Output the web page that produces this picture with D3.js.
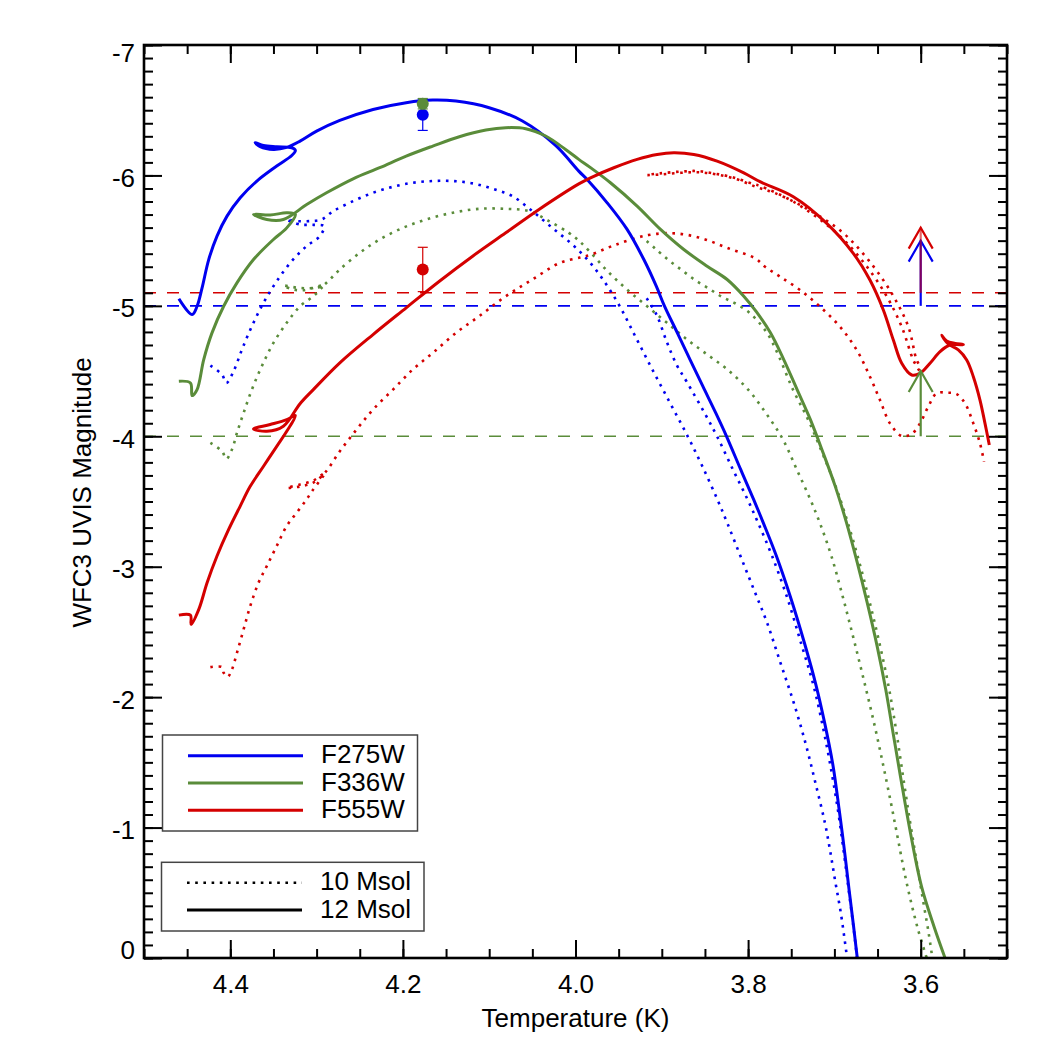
<!DOCTYPE html>
<html>
<head>
<meta charset="utf-8">
<script src="https://cdn.jsdelivr.net/npm/d3@7"></script>
<style>
body { margin: 0; background: #fff; }
text { font-family: "Liberation Sans", Arial, Helvetica, sans-serif; fill: #000; }
</style>
</head>
<body>
<svg></svg>
<script>
// bands, colours, masses
const bands = ["F275W", "F336W", "F555W"];
const bandColors = ["#0000f0", "#5a8c3a", "#d40000"];
const masses = ["10 Msol", "12 Msol"];

// axis ticks
const tempTicks = [4.4, 4.2, 4.0, 3.8, 3.6];
const magTicks = [-7, -6, -5, -4, -3, -2, -1, 0];

// tracks: [log T, magnitude]
const f275w_12 = [[4.4596,-5.054],[4.4442,-4.933],[4.4385,-4.997],[4.4327,-5.138],[4.425,-5.355],[4.4154,-5.535],[4.4038,-5.688],[4.3885,-5.829],[4.3692,-5.957],[4.3462,-6.072],[4.3288,-6.153],[4.3246,-6.192],[4.3288,-6.212],[4.3462,-6.220],[4.3615,-6.230],[4.3712,-6.251],[4.3654,-6.220],[4.35,-6.199],[4.3346,-6.215],[4.3192,-6.263],[4.30,-6.340],[4.2731,-6.422],[4.2346,-6.506],[4.1962,-6.558],[4.1654,-6.578],[4.1385,-6.570],[4.10,-6.519],[4.0615,-6.417],[4.0231,-6.230],[3.9962,-6.033],[3.9865,-5.969],[3.9633,-5.790],[3.9402,-5.586],[3.9208,-5.355],[3.9064,-5.151],[3.897,-5.0],[3.882,-4.793],[3.8673,-4.588],[3.8525,-4.384],[3.8375,-4.179],[3.825,-4.0],[3.8085,-3.744],[3.7935,-3.514],[3.7825,-3.338],[3.7672,-3.082],[3.75,-2.749],[3.7348,-2.417],[3.722,-2.110],[3.7113,-1.803],[3.7015,-1.471],[3.6945,-1.138],[3.6885,-0.831],[3.683,-0.524],[3.6778,-0.243],[3.6735,0]];
const f275w_10 = [[4.4231,-4.542],[4.4096,-4.473],[4.4046,-4.409],[4.3962,-4.499],[4.3865,-4.665],[4.375,-4.844],[4.3615,-5.023],[4.3462,-5.189],[4.3288,-5.343],[4.3115,-5.458],[4.2962,-5.535],[4.2915,-5.611],[4.3038,-5.621],[4.3192,-5.624],[4.3346,-5.662],[4.3231,-5.650],[4.3077,-5.650],[4.2942,-5.662],[4.2808,-5.726],[4.2577,-5.803],[4.2346,-5.867],[4.2115,-5.913],[4.1885,-5.944],[4.1654,-5.957],[4.1423,-5.957],[4.1192,-5.939],[4.0962,-5.898],[4.0731,-5.841],[4.05,-5.726],[4.0269,-5.598],[4.0038,-5.471],[3.9855,-5.35],[3.968,-5.2],[3.949,-5.0],[3.9295,-4.75],[3.91,-4.5],[3.89,-4.25],[3.87,-4.0],[3.853,-3.77],[3.8355,-3.514],[3.8243,-3.338],[3.8089,-3.082],[3.7934,-2.826],[3.778,-2.570],[3.7625,-2.263],[3.7471,-1.957],[3.7336,-1.650],[3.722,-1.343],[3.711,-1.036],[3.7051,-0.828],[3.6993,-0.598],[3.6925,-0.343],[3.6853,0]];
const f275w_10_loop = [[3.9175,-5.058],[3.9059,-4.930],[3.8943,-4.725],[3.8827,-4.547],[3.8712,-4.419],[3.8505,-4.179],[3.836,-4.0],[3.8175,-3.744],[3.8005,-3.514],[3.7885,-3.338],[3.7722,-3.082],[3.754,-2.749],[3.7388,-2.417],[3.725,-2.110],[3.7143,-1.803],[3.7045,-1.471],[3.696,-1.138],[3.6895,-0.831],[3.6835,-0.524],[3.678,-0.243],[3.6737,0]];

const f336w_12 = [[4.4596,-4.422],[4.4462,-4.409],[4.4442,-4.312],[4.4385,-4.358],[4.4308,-4.588],[4.4212,-4.793],[4.4077,-4.997],[4.3923,-5.176],[4.3731,-5.355],[4.35,-5.509],[4.3346,-5.598],[4.3246,-5.701],[4.3346,-5.714],[4.3538,-5.696],[4.3731,-5.701],[4.3577,-5.662],[4.3385,-5.662],[4.3115,-5.777],[4.2885,-5.867],[4.2577,-5.974],[4.2269,-6.059],[4.1962,-6.148],[4.1654,-6.225],[4.1346,-6.297],[4.1038,-6.348],[4.0808,-6.366],[4.0577,-6.358],[4.0346,-6.302],[4.0115,-6.199],[3.9962,-6.123],[3.9826,-6.060],[3.9595,-5.944],[3.9286,-5.765],[3.9015,-5.586],[3.8745,-5.432],[3.8475,-5.304],[3.8243,-5.202],[3.805,-5.074],[3.7905,-4.955],[3.7741,-4.793],[3.7587,-4.588],[3.7432,-4.358],[3.7278,-4.128],[3.713,-3.872],[3.699,-3.616],[3.686,-3.338],[3.6735,-3.031],[3.662,-2.724],[3.6505,-2.391],[3.6405,-2.059],[3.632,-1.726],[3.6235,-1.394],[3.6125,-0.982],[3.599,-0.547],[3.5845,-0.24],[3.5718,0]];
const f336w_10 = [[4.4231,-3.949],[4.4096,-3.885],[4.4046,-3.826],[4.3981,-3.898],[4.3923,-4.026],[4.3846,-4.179],[4.375,-4.358],[4.3635,-4.537],[4.35,-4.716],[4.3346,-4.870],[4.3192,-4.997],[4.3038,-5.074],[4.2942,-5.138],[4.2915,-5.16],[4.3038,-5.138],[4.3154,-5.120],[4.3269,-5.125],[4.3385,-5.156],[4.3231,-5.140],[4.3077,-5.135],[4.2942,-5.15],[4.285,-5.20],[4.2731,-5.279],[4.25,-5.407],[4.2269,-5.509],[4.2,-5.598],[4.1731,-5.662],[4.1423,-5.714],[4.1115,-5.744],[4.0808,-5.744],[4.0538,-5.726],[4.0308,-5.650],[4.0077,-5.560],[3.9962,-5.500],[3.9826,-5.410],[3.9635,-5.270],[3.9403,-5.125],[3.917,-4.997],[3.894,-4.870],[3.8708,-4.742],[3.848,-4.630],[3.824,-4.512],[3.8,-4.358],[3.7795,-4.179],[3.7595,-3.974],[3.7435,-3.744],[3.7278,-3.514],[3.717,-3.338],[3.7035,-3.082],[3.6905,-2.775],[3.6785,-2.468],[3.667,-2.161],[3.655,-1.829],[3.644,-1.496],[3.6345,-1.189],[3.628,-0.969],[3.617,-0.598],[3.6035,-0.228],[3.593,0]];
const f336w_10_loop = [[3.9175,-5.497],[3.9079,-5.441],[3.8925,-5.352],[3.877,-5.275],[3.8615,-5.198],[3.8461,-5.135],[3.8306,-5.070],[3.8152,-5.020],[3.7998,-4.955],[3.7882,-4.879],[3.7766,-4.777],[3.765,-4.623],[3.748,-4.358],[3.7305,-4.128],[3.714,-3.872],[3.6985,-3.616],[3.6845,-3.338],[3.671,-3.031],[3.659,-2.724],[3.647,-2.391],[3.6365,-2.059],[3.628,-1.726],[3.6205,-1.394],[3.6125,-1.05],[3.605,-0.75],[3.5975,-0.45],[3.591,-0.2],[3.5865,0]];

const f555w_12 = [[4.4596,-2.629],[4.4462,-2.629],[4.4454,-2.558],[4.4365,-2.673],[4.4269,-2.877],[4.4154,-3.082],[4.4019,-3.286],[4.3885,-3.465],[4.3769,-3.616],[4.3615,-3.770],[4.3462,-3.923],[4.3346,-4.038],[4.3246,-4.159],[4.3346,-4.128],[4.3538,-4.090],[4.3731,-4.056],[4.3577,-4.038],[4.3385,-4.077],[4.3192,-4.25],[4.3038,-4.358],[4.2731,-4.563],[4.2346,-4.780],[4.1962,-4.985],[4.1577,-5.189],[4.1192,-5.381],[4.0808,-5.560],[4.0423,-5.739],[3.9962,-5.935],[3.9826,-5.982],[3.9556,-6.059],[3.9286,-6.123],[3.9054,-6.161],[3.8861,-6.174],[3.8629,-6.161],[3.8359,-6.110],[3.805,-6.020],[3.7862,-5.952],[3.7476,-5.837],[3.7089,-5.633],[3.6781,-5.403],[3.6588,-5.198],[3.6433,-4.968],[3.6317,-4.738],[3.622,-4.560],[3.6104,-4.470],[3.6008,-4.483],[3.5892,-4.560],[3.5776,-4.649],[3.5668,-4.698],[3.5506,-4.703],[3.560,-4.712],[3.5699,-4.730],[3.5757,-4.774],[3.568,-4.708],[3.5564,-4.662],[3.5467,-4.585],[3.539,-4.457],[3.5313,-4.278],[3.5255,-4.099],[3.5205,-3.933]];
const f555w_10 = [[4.4231,-2.230],[4.4096,-2.230],[4.4077,-2.187],[4.4031,-2.156],[4.3981,-2.212],[4.3923,-2.340],[4.3846,-2.519],[4.3769,-2.698],[4.3673,-2.877],[4.3577,-3.005],[4.3462,-3.159],[4.3346,-3.312],[4.3231,-3.414],[4.3115,-3.517],[4.3038,-3.593],[4.2904,-3.719],[4.3038,-3.66],[4.3192,-3.63],[4.3346,-3.604],[4.3192,-3.615],[4.3038,-3.645],[4.2904,-3.72],[4.2731,-3.885],[4.2538,-4.051],[4.2346,-4.205],[4.2115,-4.358],[4.1885,-4.512],[4.1654,-4.639],[4.1385,-4.793],[4.1115,-4.921],[4.0808,-5.074],[4.05,-5.202],[4.018,-5.33],[3.995,-5.37],[3.983,-5.39],[3.9542,-5.467],[3.9156,-5.543],[3.8847,-5.556],[3.8538,-5.518],[3.8229,-5.441],[3.792,-5.365],[3.7804,-5.300],[3.763,-5.224],[3.7399,-5.122],[3.7167,-4.994],[3.6935,-4.840],[3.6742,-4.662],[3.6588,-4.457],[3.6472,-4.278],[3.6356,-4.099],[3.622,-4.002],[3.6104,-4.018],[3.6008,-4.099],[3.5912,-4.227],[3.5815,-4.330],[3.5699,-4.334],[3.5583,-4.324],[3.5487,-4.253],[3.539,-4.099],[3.5313,-3.946],[3.5266,-3.805]];
const f555w_10_loop = [[3.6016,-4.503],[3.6086,-4.585],[3.622,-4.840],[3.6414,-5.096],[3.6684,-5.352],[3.6993,-5.569],[3.7476,-5.799],[3.7862,-5.919],[3.7940,-5.934],[3.8171,-5.985],[3.8403,-6.016],[3.8596,-6.034],[3.8789,-6.029],[3.9021,-6.016],[3.9175,-6.003],[3.9000,-6.008],[3.8780,-6.020],[3.8560,-6.024],[3.8350,-6.006],[3.8120,-5.968],[3.7900,-5.910],[3.7708,-5.870],[3.736,-5.760],[3.6916,-5.569],[3.6607,-5.352],[3.6336,-5.096],[3.6143,-4.840],[3.6047,-4.585],[3.600,-4.53]];

// observed magnitudes and lower limits
const obsTemp = 4.177;
const obsMag = [-6.465, -6.55, -5.279];
const obsErr = [0.12, 0.04, 0.17];
const limitTemp = 3.6;
const limitMag = [-5.0, -4.0, -5.1];
const limitArrow = 0.5;

const tracks = [
  { band: "F275W", mass: "10 Msol", pts: f275w_10 },
  { band: "F275W", mass: "10 Msol", pts: f275w_10_loop },
  { band: "F336W", mass: "10 Msol", pts: f336w_10 },
  { band: "F336W", mass: "10 Msol", pts: f336w_10_loop },
  { band: "F555W", mass: "10 Msol", pts: f555w_10 },
  { band: "F555W", mass: "10 Msol", pts: f555w_10_loop },
  { band: "F275W", mass: "12 Msol", pts: f275w_12 },
  { band: "F336W", mass: "12 Msol", pts: f336w_12 },
  { band: "F555W", mass: "12 Msol", pts: f555w_12 }
];

const svg = d3.select("svg").attr("width", 1050).attr("height", 1050);
svg.append("rect").attr("width", 1050).attr("height", 1050).attr("fill", "#fff");

const x = d3.scaleLinear().domain([4.5, 3.5]).range([144, 1007]);
const y = d3.scaleLinear().domain([-7, 0]).range([45, 958]);
const color = d3.scaleOrdinal().domain(bands).range(bandColors);
const dotted = "2.6,5.6";

svg.append("clipPath").attr("id", "plot")
  .append("rect").attr("x", 144).attr("y", 45).attr("width", 863).attr("height", 913);

const plot = svg.append("g").attr("clip-path", "url(#plot)");

// detection limits (dashed)
plot.selectAll(".limit")
  .data(bands)
  .enter().append("line")
  .attr("x1", x(4.5)).attr("x2", x(3.5))
  .attr("y1", (d, i) => y(limitMag[i])).attr("y2", (d, i) => y(limitMag[i]))
  .attr("stroke", d => color(d))
  .attr("stroke-width", 1.6)
  .attr("stroke-dasharray", "12,11");

const line = d3.line()
  .x(d => x(d[0]))
  .y(d => y(d[1]))
  .curve(d3.curveCatmullRom.alpha(0.5));

plot.selectAll(".track")
  .data(tracks)
  .enter().append("path")
  .attr("d", d => line(d.pts))
  .attr("fill", "none")
  .attr("stroke", d => color(d.band))
  .attr("stroke-width", d => d.mass === "12 Msol" ? 3 : 2.6)
  .attr("stroke-dasharray", d => d.mass === "12 Msol" ? null : dotted)
  .attr("stroke-linejoin", "round");

// lower-limit arrows at log T = 3.6
[0, 2, 1].forEach(i => {
  const ax = x(limitTemp), y0 = y(limitMag[i]), y1 = y(limitMag[i] - limitArrow);
  const g = plot.append("g")
    .attr("stroke", bandColors[i])
    .attr("stroke-width", 2.2)
    .attr("fill", "none");
  g.append("line")
    .attr("x1", ax).attr("x2", ax).attr("y1", y0).attr("y2", y1)
    .attr("stroke-opacity", i === 2 ? 0.6 : 1);
  g.append("path")
    .attr("d", `M${ax - 12},${y1 + 21}L${ax},${y1}L${ax + 12},${y1 + 21}`);
});

// observed points with error bars
bands.forEach((b, i) => {
  const px = x(obsTemp);
  const g = svg.append("g").attr("stroke", color(b)).attr("fill", color(b));
  g.append("line")
    .attr("x1", px).attr("x2", px)
    .attr("y1", y(obsMag[i] - obsErr[i])).attr("y2", y(obsMag[i] + obsErr[i]))
    .attr("stroke-width", 1.2);
  [obsMag[i] - obsErr[i], obsMag[i] + obsErr[i]].forEach(v => {
    g.append("line")
      .attr("x1", px - 5).attr("x2", px + 5)
      .attr("y1", y(v)).attr("y2", y(v))
      .attr("stroke-width", 1.2);
  });
  g.append("circle")
    .attr("cx", px).attr("cy", y(obsMag[i])).attr("r", 6)
    .attr("stroke", "none");
});

// axes
function styleAxis(g) {
  g.select(".domain").remove();
  g.selectAll(".tick line").attr("stroke", "#000").attr("stroke-width", 2);
  g.attr("font-family", "Liberation Sans, Arial, sans-serif").attr("font-size", 26);
}

const xMinor = d3.range(70, 91).map(i => i / 20);
const yMinor = d3.range(-70, 1).map(i => i / 10);

svg.append("g").attr("transform", `translate(0,${y(0)})`)
  .call(d3.axisBottom(x).tickValues(xMinor).tickFormat("").tickSize(-9).tickSizeOuter(0))
  .call(styleAxis);
svg.append("g").attr("transform", `translate(0,${y(0)})`)
  .call(d3.axisBottom(x).tickValues(tempTicks).tickFormat(d3.format(".1f")).tickSize(-18).tickSizeOuter(0).tickPadding(35))
  .call(styleAxis)
  .selectAll("text").attr("dy", 0);

svg.append("g").attr("transform", `translate(0,${y(-7)})`)
  .call(d3.axisTop(x).tickValues(xMinor).tickFormat("").tickSize(-9).tickSizeOuter(0))
  .call(styleAxis);
svg.append("g").attr("transform", `translate(0,${y(-7)})`)
  .call(d3.axisTop(x).tickValues(tempTicks).tickFormat("").tickSize(-18).tickSizeOuter(0))
  .call(styleAxis);

svg.append("g").attr("transform", `translate(${x(4.5)},0)`)
  .call(d3.axisLeft(y).tickValues(yMinor).tickFormat("").tickSize(-9).tickSizeOuter(0))
  .call(styleAxis);
svg.append("g").attr("transform", `translate(${x(4.5)},0)`)
  .call(d3.axisLeft(y).tickValues(magTicks).tickFormat(d => String(d)).tickSize(-18).tickSizeOuter(0).tickPadding(9))
  .call(styleAxis)
  .selectAll("text").attr("dy", d => d === -7 ? 16.5 : (d === 0 ? 0 : 11));

svg.append("g").attr("transform", `translate(${x(3.5)},0)`)
  .call(d3.axisRight(y).tickValues(yMinor).tickFormat("").tickSize(-9).tickSizeOuter(0))
  .call(styleAxis);
svg.append("g").attr("transform", `translate(${x(3.5)},0)`)
  .call(d3.axisRight(y).tickValues(magTicks).tickFormat("").tickSize(-18).tickSizeOuter(0))
  .call(styleAxis);

svg.append("rect")
  .attr("x", x(4.5)).attr("y", y(-7))
  .attr("width", x(3.5) - x(4.5)).attr("height", y(0) - y(-7))
  .attr("fill", "none").attr("stroke", "#000").attr("stroke-width", 2.6);

svg.append("text")
  .attr("x", (x(4.5) + x(3.5)) / 2).attr("y", 1027)
  .attr("text-anchor", "middle").attr("font-size", 26)
  .text("Temperature (K)");

svg.append("text")
  .attr("transform", `translate(91,${(y(-7) + y(0)) / 2 - 9}) rotate(-90)`)
  .attr("text-anchor", "middle").attr("font-size", 26)
  .text("WFC3 UVIS Magnitude");

// legends
const leg1 = svg.append("g");
leg1.append("rect").attr("x", 162.5).attr("y", 735).attr("width", 255).attr("height", 96)
  .attr("fill", "#fff").attr("stroke", "#444").attr("stroke-width", 1.5);
bands.forEach((b, i) => {
  const ly = 755.7 + i * 27.3;
  leg1.append("line").attr("x1", 188).attr("x2", 303).attr("y1", ly).attr("y2", ly)
    .attr("stroke", color(b)).attr("stroke-width", 3);
  leg1.append("text").attr("x", 321).attr("y", ly + 7.5).attr("font-size", 26).text(b);
});

const leg2 = svg.append("g");
leg2.append("rect").attr("x", 161.5).attr("y", 862.3).attr("width", 262.5).attr("height", 68.7)
  .attr("fill", "#fff").attr("stroke", "#444").attr("stroke-width", 1.5);
masses.forEach((m, i) => {
  const ly = 882.7 + i * 27.3;
  leg2.append("line").attr("x1", 187).attr("x2", 302).attr("y1", ly).attr("y2", ly)
    .attr("stroke", "#000").attr("stroke-width", i === 0 ? 2.6 : 3)
    .attr("stroke-dasharray", i === 0 ? dotted : null);
  leg2.append("text").attr("x", 320).attr("y", ly + 7.5).attr("font-size", 26).text(m);
});
</script>
</body>
</html>
